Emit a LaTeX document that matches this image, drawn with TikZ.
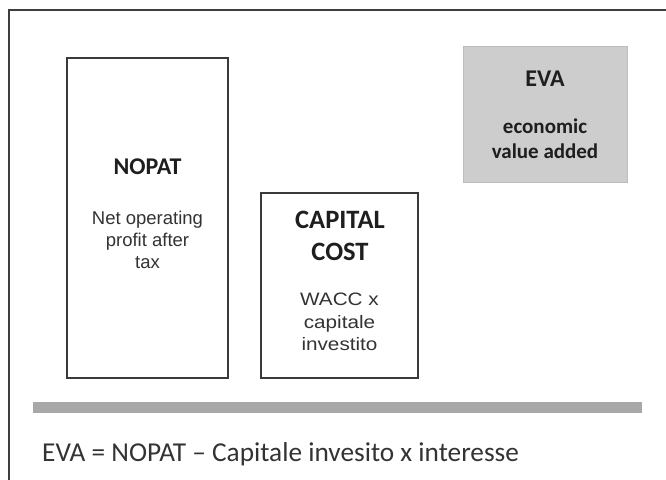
\documentclass[tikz,border=0pt]{standalone}
\usepackage{fontspec}
\setmainfont{Carlito}
\newfontfamily\bodyfont{Liberation Sans}
\newfontfamily\widefont[FakeStretch=1.15]{Liberation Sans}
\definecolor{frameline}{HTML}{3E3E3E}
\definecolor{boxline}{HTML}{3A3A3A}
\definecolor{evafill}{HTML}{CDCDCD}
\definecolor{evaedge}{HTML}{BDBDBD}
\definecolor{barfill}{HTML}{A8A8A8}
\definecolor{ink}{HTML}{1E1E1E}
\definecolor{softink}{HTML}{333333}
\tikzset{
  panel/.style={draw=boxline, line width=2pt, fill=white, inner sep=0pt},
  evapanel/.style={draw=evaedge, line width=0.8pt, fill=evafill, inner sep=0pt},
  title/.style={anchor=base, inner sep=0pt, text=ink, font=\fontsize{24}{28}\selectfont\bfseries},
  bigtitle/.style={title, font=\fontsize{26.5}{30}\selectfont\bfseries},
  evasub/.style={anchor=base, inner sep=0pt, text=ink, font=\fontsize{21}{25}\selectfont\bfseries},
  plain/.style={anchor=base, inner sep=0pt, text=softink, font=\bodyfont\fontsize{18.5}{22}\selectfont},
  wide/.style={anchor=base, inner sep=0pt, text=softink, font=\widefont\fontsize{18}{22}\selectfont},
  formula/.style={anchor=base west, inner sep=0pt, text=softink, font=\fontsize{27.3}{32}\selectfont}
}
\begin{document}
\begin{tikzpicture}[x=1pt, y=-1pt]
  \useasboundingbox (0,0) rectangle (666,479);
  % outer frame: only the left and top edges are visible
  \draw[frameline, line width=2pt] (9.3,480) -- (9.3,10) -- (667,10);

  % NOPAT block
  \node[panel, minimum width=161pt, minimum height=320pt] (nopat) at (147.5,218) {};
  \node[title] (nopatT) at (147.5,174.5) {NOPAT};
  \node[plain] (nopat1) at (147.5,224) {Net operating};
  \node[plain] (nopat2) at (147.5,246.5) {profit after};
  \node[plain] (nopat3) at (147.5,268.5) {tax};

  % capital cost block
  \node[panel, minimum width=157pt, minimum height=185pt] (capital) at (339.5,285.5) {};
  \node[bigtitle] (capT1) at (340,228) {CAPITAL};
  \node[bigtitle] (capT2) at (340,260) {COST};
  \node[wide] (cap1) at (339.5,305.5) {WACC x};
  \node[wide] (cap2) at (339.5,328.5) {capitale};
  \node[wide] (cap3) at (339.5,350.5) {investito};

  % EVA block
  \node[evapanel, minimum width=164pt, minimum height=136pt] (eva) at (545,114) {};
  \node[title] (evaT) at (545,86) {EVA};
  \node[evasub] (eva1) at (545,133) {economic};
  \node[evasub] (eva2) at (545,158) {value added};

  % separator bar
  \node[fill=barfill, inner sep=0pt, minimum width=609pt, minimum height=11pt] (bar) at (337.5,407.5) {};

  % formula
  \node[formula] (eq) at (42,461) {EVA = NOPAT -- Capitale invesito x interesse};
\end{tikzpicture}
\end{document}
